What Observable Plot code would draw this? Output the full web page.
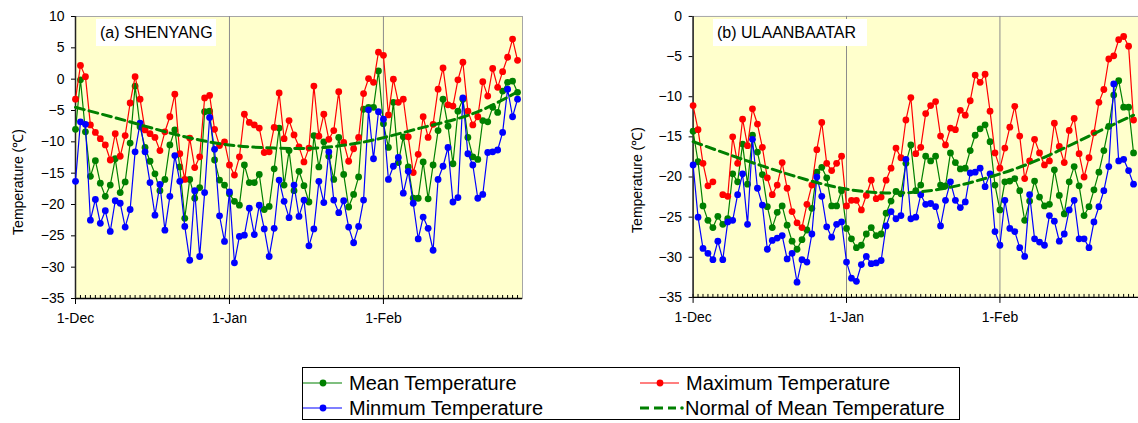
<!DOCTYPE html>
<html>
<head>
<meta charset="utf-8">
<script src="https://cdn.jsdelivr.net/npm/d3@7"></script>
<script src="https://cdn.jsdelivr.net/npm/@observablehq/plot@0.6"></script>
<style>
html, body { margin: 0; padding: 0; background: #fff; overflow: hidden; }
#wrap { position: relative; width: 1138px; height: 423px; overflow: hidden; background: #fff;
        font-family: "Liberation Sans", Arial, sans-serif; color: #000; }
.panel { position: absolute; top: 0; }
.ylab { position: absolute; font-size: 14px; white-space: nowrap; transform: translate(-50%, -50%) rotate(-90deg); }
.title { position: absolute; background: #fff; font-size: 16px; line-height: 27px; height: 27px; box-sizing: border-box; padding-left: 4px; white-space: nowrap; }
#legend { position: absolute; left: 302px; top: 367px; }
</style>
</head>
<body>
<div id="wrap">
  <div id="left" class="panel" style="left:0px"></div>
  <div id="right" class="panel" style="left:580px"></div>
  <div class="ylab" style="left:17px; top:182px">Temperature (℃)</div>
  <div class="ylab" style="left:636px; top:180px">Temperature (℃)</div>
  <div class="title" style="left:96px; top:19px; width:120px">(a) SHENYANG</div>
  <div class="title" style="left:713px; top:19px; width:154px">(b) ULAANBAATAR</div>
  <div id="legend"></div>
</div>
<script>
// ---------- data (daily, 1 Dec .. 28 Feb) ----------
const tickLabels = ["1-Dec", "1-Jan", "1-Feb"];

const shenyangMax = [-3.2, 2.2, 0.4, -7.3, -8.5, -9.5, -10.5, -12.9, -8.7, -12.3,
  -9.0, -3.8, 0.4, -3.2, -8.1, -8.7, -9.3, -11.4, -8.4, -6.0,
  -2.4, -11.9, -16.0, -9.4, -14.1, -12.4, -3.0, -2.6, -8.0, -10.6,
  -10.0, -13.7, -15.3, -12.4, -5.6, -6.9, -7.3, -7.8, -11.7, -11.6,
  -7.7, -2.2, -9.5, -6.6, -8.9, -10.8, -13.2, -11.0, -1.1, -9.1,
  -5.6, -9.6, -8.2, -2.0, -10.1, -13.1, -11.1, -9.3, -2.3, 0.1,
  -0.5, 4.3, 3.8, -5.7, 0.0, -3.7, -3.2, -9.2, -14.9, -12.0,
  -6.0, -9.3, -7.2, -1.6, 1.8, -4.1, -4.3, -0.1, 2.7, -5.1,
  -7.3, -6.0, -0.4, -2.7, 1.7, -1.3, 1.2, 3.5, 6.4, 3.0];

const shenyangMean = [-8.0, -0.1, -8.4, -15.5, -13.0, -16.6, -18.7, -16.9, -12.7, -18.1,
  -16.4, -10.2, -1.1, -7.6, -10.9, -13.1, -15.1, -17.8, -16.0, -10.5,
  -8.1, -14.0, -22.2, -16.0, -19.0, -17.3, -5.2, -5.1, -12.9, -16.1,
  -16.9, -18.3, -19.5, -20.1, -13.7, -16.5, -16.5, -15.2, -20.8, -20.3,
  -14.3, -7.8, -16.9, -11.4, -17.8, -14.7, -17.0, -19.6, -9.0, -14.0,
  -10.0, -12.3, -16.0, -9.3, -15.2, -20.4, -18.4, -15.6, -4.8, -4.5,
  -4.5, 1.3, -7.1, -10.9, -3.7, -13.3, -9.2, -14.0, -19.0, -19.0,
  -13.2, -19.1, -13.7, -8.2, -3.2, -7.5, -13.5, -5.1, -3.2, -9.3,
  -12.4, -12.8, -6.6, -6.8, -4.5, -5.3, -1.9, -0.5, -0.3, -2.1];

const shenyangMin = [-16.3, -6.8, -7.2, -22.5, -19.2, -23.0, -21.0, -24.3, -19.4, -19.8,
  -23.6, -20.8, -11.6, -7.0, -11.6, -16.5, -21.7, -16.8, -24.1, -18.7,
  -12.2, -16.3, -23.5, -28.9, -17.8, -28.3, -18.1, -6.1, -11.2, -21.8,
  -25.9, -18.0, -29.3, -25.1, -24.9, -20.6, -24.8, -20.1, -23.9, -28.3,
  -23.8, -16.1, -19.5, -22.1, -16.9, -21.9, -19.3, -26.6, -23.9, -16.3,
  -19.7, -11.6, -19.3, -21.3, -19.4, -23.6, -26.1, -23.5, -19.3, -4.9,
  -12.7, -5.2, -6.4, -16.0, -13.9, -12.5, -18.2, -14.7, -19.8, -25.5,
  -22.0, -23.8, -27.3, -16.0, -13.9, -10.9, -19.6, -18.9, -3.0, -11.9,
  -13.7, -19.0, -18.4, -11.7, -11.6, -11.3, -8.5, -1.6, -6.0, -3.2];

// normal of mean temperature, read at a few days (day index from 1 Dec)
const normalDays = [0, 10, 20, 30, 40, 50, 60, 70, 80, 89];
const shenyangNormal = [-4.5, -6.6, -8.8, -10.4, -11.0, -10.9, -9.7, -7.7, -5.5, -2.0];

const ulaanbaatarMax = [-11.1, -14.1, -18.3, -21.1, -20.6, null, -22.2, -22.4, -15.0, -18.3,
  -12.8, -16.1, -11.5, -13.4, -16.3, -20.1, -22.2, -21.0, -18.2, -21.4,
  -24.3, -25.7, -26.3, -23.4, -21.0, -16.6, -13.2, -18.3, -19.2, -18.3,
  -17.4, -23.6, -22.9, -22.9, -24.1, -22.3, -20.4, -22.7, -22.5, -20.4,
  -18.9, -16.4, -17.6, -12.9, -10.1, -17.1, -16.3, -12.1, -11.1, -10.6,
  -14.9, -16.0, -13.9, -14.1, -11.7, -12.3, -10.5, -7.3, -8.2, -7.2,
  -11.8, -17.0, -18.9, -16.4, -13.8, -11.2, -14.9, -20.2, -18.0, -15.3,
  -17.0, -18.5, -18.0, -13.3, -16.2, -18.2, -14.2, -12.7, -17.1, -20.0,
  -17.6, -14.5, -10.7, -9.1, -5.3, -4.9, -2.9, -2.5, -3.7, -12.9];

const ulaanbaatarMean = [-14.3, -18.1, -23.6, -25.4, -26.3, -24.9, -25.9, -25.2, -19.6, -20.6,
  -15.9, -20.9, -14.8, -16.9, -19.7, -23.7, -26.3, -24.4, -23.6, -26.0,
  -28.0, -29.0, -27.8, -26.6, -23.9, -19.4, -18.8, -20.1, -23.6, -23.6,
  -21.7, -26.4, -27.7, -28.8, -28.5, -27.1, -26.3, -27.3, -27.1, -24.5,
  -23.0, -21.8, -22.1, -18.3, -16.0, -21.7, -21.0, -17.4, -18.0, -17.4,
  -21.0, -21.1, -17.0, -18.2, -19.0, -18.9, -16.7, -14.8, -14.0, -13.5,
  -15.6, -21.0, -24.1, -20.6, -20.5, -20.2, -21.7, -25.4, -23.0, -20.5,
  -22.5, -23.6, -23.4, -19.1, -22.3, -24.6, -20.6, -18.7, -21.1, -24.8,
  -23.7, -21.6, -19.4, -16.7, -13.7, -9.8, -8.0, -11.3, -11.3, -17.0];

const ulaanbaatarMin = [-18.5, -25.0, -28.9, -29.5, -30.3, -28.0, -30.3, -25.6, -25.4, -22.2,
  -19.6, -25.9, -15.3, -21.4, -23.5, -29.0, -27.9, -27.6, -27.3, -30.2,
  -29.5, -33.1, -30.3, -30.6, -27.1, -20.0, -22.4, -26.2, -27.5, -25.9,
  -25.6, -30.6, -32.6, -33.0, -30.9, -29.9, -30.8, -30.7, -30.4, -26.1,
  -24.3, -25.2, -24.8, -17.8, -25.2, -25.0, -22.2, -23.4, -23.3, -23.7,
  -26.1, -22.9, -20.6, -22.9, -23.8, -23.1, -19.5, -19.4, -18.9, -21.2,
  -19.6, -26.8, -28.5, -22.9, -26.4, -26.8, -28.8, -29.9, -22.2, -27.7,
  -28.1, -28.5, -24.8, -25.5, -28.0, -27.1, -24.1, -22.9, -27.7, -27.7,
  -28.8, -25.6, -23.7, -21.7, -18.7, -8.4, -18.0, -17.8, -19.2, -20.9];

const ulaanbaatarNormal = [-15.6, -17.8, -19.8, -21.4, -22.0, -21.5, -20.0, -17.8, -14.9, -12.3];

// ---------- colours ----------
const cMean = "#008000", cMax = "#ff0000", cMin = "#0000ff";

// ---------- drawing ----------
const start = new Date(Date.UTC(2012, 11, 1));
const nDays = shenyangMax.length;
const dates = d3.range(nDays).map(i => d3.utcDay.offset(start, i));
const xEnd = d3.utcDay.offset(start, nDays);
const tickDates = d3.utcMonth.range(start, xEnd);
const fmtTick = d => tickLabels[tickDates.findIndex(t => +t === +d)];

function panel({max, mean, min, normal, yDomain, width, ml, mr}) {
  const H = 340, mt = 16, mb = 42;
  const rows = dates.map((d, i) => ({date: d, max: max[i], mean: mean[i], min: min[i]}));
  const norm = normalDays.map((k, j) => ({date: d3.utcDay.offset(start, k), v: normal[j]}));
  const series = (key, color) => [
    Plot.line(rows, {x: "date", y: key, stroke: color, strokeWidth: 1.2}),
    Plot.dot(rows.filter(r => r[key] != null), {x: "date", y: key, fill: color, r: 3.4})
  ];
  return Plot.plot({
    width, height: H, marginLeft: ml, marginRight: mr, marginTop: mt, marginBottom: mb,
    style: {fontFamily: '"Liberation Sans", Arial, sans-serif', fontSize: "14px", color: "#000", background: "transparent", overflow: "visible"},
    x: {type: "utc", domain: [start, xEnd], label: null},
    y: {domain: yDomain, label: null},
    marks: [
      Plot.frame({fill: "#ffffcc", stroke: "#a6a6a6"}),
      Plot.ruleX(tickDates.slice(1), {stroke: "#8c8c8c", strokeWidth: 1}),
      Plot.ruleX(dates, {stroke: "#000", strokeWidth: 1, insetTop: H - mt - mb - 3}),
      Plot.axisX(tickDates, {tickSize: 6, tickPadding: 9, tickFormat: fmtTick, fontSize: 14, label: null}),
      Plot.axisY(d3.range(yDomain[0], yDomain[1] + 1, 5), {tickSize: 4, tickPadding: 7, fontSize: 14, label: null}),
      Plot.ruleY([yDomain[0]], {stroke: "#000", strokeWidth: 1.3}),
      Plot.ruleX([start], {stroke: "#222", strokeWidth: 1.5}),
      ...series("mean", cMean),
      ...series("max", cMax),
      ...series("min", cMin),
      Plot.line(norm, {x: "date", y: "v", stroke: cMean, strokeWidth: 3, strokeDasharray: "9,5", curve: "natural"})
    ]
  });
}

document.getElementById("left").append(panel({
  max: shenyangMax, mean: shenyangMean, min: shenyangMin, normal: shenyangNormal,
  yDomain: [-35, 10], width: 560, ml: 75, mr: 38
}));
document.getElementById("right").append(panel({
  max: ulaanbaatarMax, mean: ulaanbaatarMean, min: ulaanbaatarMin, normal: ulaanbaatarNormal,
  yDomain: [-35, 0], width: 560, ml: 113, mr: 0
}));

// ---------- legend ----------
const legendItems = [
  {name: "Mean Temperature", color: cMean, col: 0, row: 0, dash: false},
  {name: "Maximum Temperature", color: cMax, col: 1, row: 0, dash: false},
  {name: "Minmum Temperature", color: cMin, col: 0, row: 1, dash: false},
  {name: "Normal of Mean Temperature", color: cMean, col: 1, row: 1, dash: true}
];
const lg = d3.select("#legend").append("svg").attr("width", 660).attr("height", 54)
  .style("font-family", '"Liberation Sans", Arial, sans-serif');
lg.append("rect").attr("x", 0.5).attr("y", 0.5).attr("width", 657).attr("height", 52)
  .attr("fill", "#fff").attr("stroke", "#000");
const colX = [1, 338], rowY = [16, 41];
for (const it of legendItems) {
  const x0 = colX[it.col], y0 = rowY[it.row];
  const g = lg.append("g").attr("transform", `translate(${x0},${y0})`);
  if (it.dash) {
    g.append("line").attr("x1", 0).attr("x2", 36).attr("y1", 0).attr("y2", 0)
      .attr("stroke", it.color).attr("stroke-width", 3).attr("stroke-dasharray", "9,5");
    g.append("circle").attr("cx", 42).attr("cy", 0).attr("r", 1.8).attr("fill", it.color);
  } else {
    g.append("line").attr("x1", 0).attr("x2", 39).attr("y1", 0).attr("y2", 0)
      .attr("stroke", it.color).attr("stroke-width", 1.2);
    g.append("circle").attr("cx", 20).attr("cy", 0).attr("r", 3.4).attr("fill", it.color);
  }
  g.append("text").attr("x", it.dash ? 45 : 46).attr("y", 7).attr("font-size", 20)
    .attr("fill", "#000").text(it.name);
}
</script>
</body>
</html>
